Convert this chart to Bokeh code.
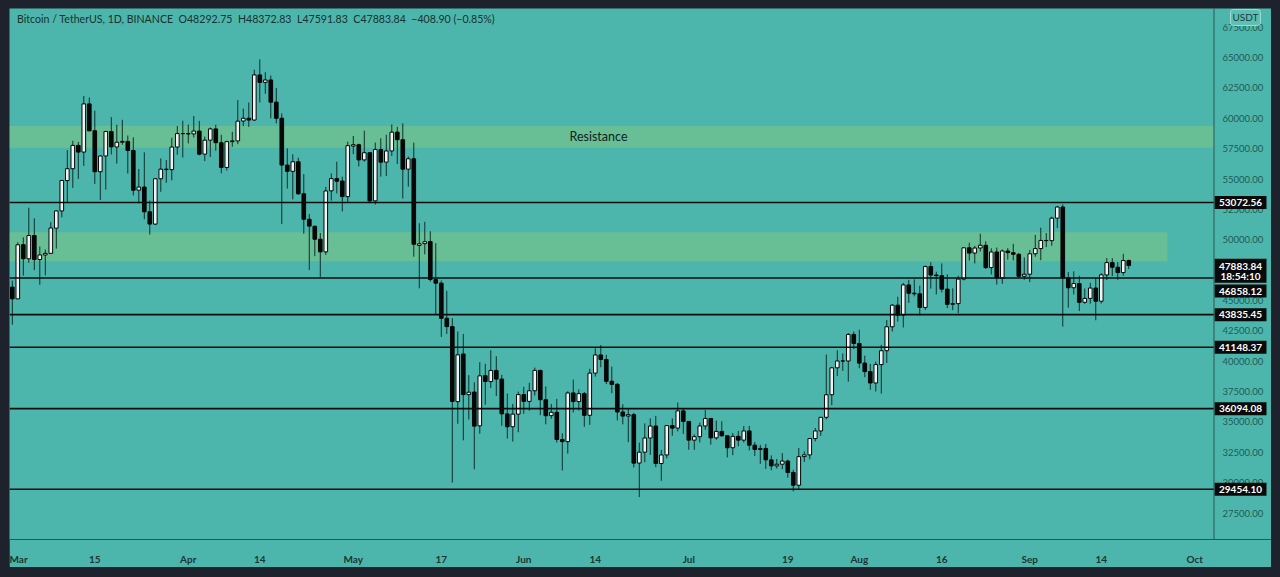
import pandas as pd
from bokeh.plotting import figure
from bokeh.models import (Range1d, FixedTicker, Label, Span,
                          ColumnDataSource, GlobalInlineStyleSheet)
from bokeh.core.properties import value
from bokeh.embed import file_html
from bokeh.resources import INLINE

# ---------------- data (BTC/USDT daily, Binance) ----------------
first_day = "2021-02-28"
axis_origin = "2021-03-01"

opens = [
    46103,
    # March
    45135, 49595, 48436, 50349, 48374, 48746, 48882, 50959, 52376, 54874,
    55851, 57773, 57222, 61188, 58976, 55605, 56900, 58912, 57641, 58030,
    58100, 57351, 54083, 54342, 52303, 51293, 55025, 55817, 55777, 57635, 58746,
    # April
    58739, 58720, 58950, 57051, 58202, 59130, 57991, 55953, 58077, 58142,
    59778, 60007, 59861, 63575, 62959, 63158, 61334, 60007, 56150, 55634,
    56425, 53788, 51690, 51111, 50047, 49004, 54030, 55036, 54838, 53555,
    # May
    57714, 57825, 56578, 57169, 53205, 57436, 56393, 57315, 58866, 58240,
    55816, 56670, 49537, 49682, 49855, 46716, 46427, 43538, 42849, 36671,
    40597, 37249, 37458, 34681, 38810, 38325, 39241, 38530, 35661, 34605, 35642,
    # June
    37253, 36694, 37568, 39246, 36829, 35517, 35796, 33556, 33380, 37389,
    36677, 37331, 35546, 39021, 40516, 40143, 38349, 38098, 35820, 35484,
    35601, 31614, 32510, 33676, 34663, 31577, 32283, 34702, 34494, 35911,
    # July
    35045, 33502, 33787, 34669, 35288, 33690, 34220, 33863, 32875, 33815,
    33502, 34259, 33086, 32730, 32820, 31874, 31383, 31521, 31779, 30839,
    29790, 32145, 32288, 33635, 34259, 35381, 37241, 39457, 40019, 40018, 42207,
    # August
    41461, 39850, 39146, 38207, 39723, 40868, 42836, 44614, 43794, 46280,
    45601, 45554, 44429, 47793, 47097, 47047, 45937, 44686, 44741, 46763,
    49339, 48905, 49322, 49546, 47707, 48994, 46852, 49077, 48942, 48803, 46995,
    # September
    47166, 48848, 49277, 49944, 49928, 51782, 52698, 46864, 46049, 46396,
    44850, 45173, 46026, 44941, 47103, 48121, 47737, 47300, 48292.75,
]
highs = [
    46638,
    49790, 50200, 52640, 51773, 49448, 49200, 51450, 52402, 54895, 57387,
    58150, 58058, 61844, 61724, 60633, 56938, 58981, 60100, 59468, 59880,
    58589, 58430, 55830, 57200, 53230, 55073, 56700, 56559, 58400, 59368, 59800,
    59490, 60200, 59791, 58500, 59251, 59474, 58650, 58153, 58894, 61500,
    60800, 61300, 64000, 64854, 63800, 63520, 62506, 60408, 57526, 57040,
    56757, 55410, 52130, 51167, 50555, 54356, 55466, 56428, 55195, 58075,
    58550, 57912, 58981, 57200, 58000, 58360, 58650, 59500, 59300, 59592,
    56862, 58000, 51367, 51483, 50700, 49720, 46643, 45800, 43546, 42451,
    42250, 38856, 38270, 39920, 39791, 40900, 40411, 38877, 37338, 36488, 37499,
    37894, 38225, 39476, 39289, 37925, 36480, 36900, 34068, 37534, 38491,
    37680, 37463, 39380, 41064, 41330, 40527, 39560, 38200, 36457, 36137,
    35750, 33298, 34881, 35298, 35500, 32700, 34749, 35297, 36600, 36100,
    35057, 33977, 34945, 35967, 35293, 35118, 35059, 33910, 34100, 34262,
    34666, 34678, 33340, 33114, 33185, 32249, 31955, 32435, 31899, 31063,
    32859, 32576, 33650, 34500, 35398, 40550, 39542, 40900, 40640, 42316, 42448,
    42599, 40459, 39780, 39969, 41350, 43392, 44700, 45310, 46454, 46700,
    46743, 46218, 47886, 48144, 47372, 48053, 47160, 46000, 47033, 49382,
    49757, 49500, 50500, 49875, 49300, 49360, 49200, 49309, 49667, 48910, 48550,
    49150, 50400, 51000, 50558, 51900, 52780, 52920, 47340, 47400, 47031,
    45989, 46460, 46876, 47250, 48500, 48486, 48150, 48843, 48372.83,
]
lows = [
    43000,
    45115, 47047, 48100, 47500, 46300, 47070, 48882, 49274, 51845, 53005,
    54273, 55013, 56078, 59000, 54600, 53271, 54124, 57023, 56270, 57820,
    55450, 53650, 53000, 51700, 50427, 51214, 53950, 54691, 54892, 57000, 56770,
    57935, 58428, 56957, 56478, 56817, 57333, 55473, 55700, 57654, 57876,
    59360, 59300, 59791, 61301, 62020, 60000, 59580, 51300, 54221, 53329,
    53695, 50500, 47500, 48650, 46930, 48754, 53222, 53813, 52330, 53068,
    57050, 56035, 56435, 53000, 52900, 55200, 55241, 56900, 56235, 53400,
    54370, 48600, 46000, 48799, 46555, 43825, 42001, 42250, 30000, 34850,
    33488, 35200, 31111, 34031, 36419, 37800, 37134, 34684, 33632, 33379, 34153,
    35666, 35920, 37170, 35555, 34800, 35258, 33300, 31000, 32396, 35782,
    35936, 34600, 34757, 38730, 39506, 38116, 37365, 35129, 34803, 33336,
    31251, 28805, 31683, 32286, 31275, 30151, 32000, 33862, 34226, 34017,
    32711, 32699, 33316, 34357, 33125, 33532, 33777, 32077, 32261, 33004,
    33306, 32658, 32202, 31550, 31133, 31020, 31164, 31108, 30408, 29278,
    29482, 31708, 31925, 33402, 33851, 35205, 36383, 38772, 39200, 38313, 41000,
    39422, 38690, 37642, 37509, 37332, 39853, 42446, 43261, 42779, 44800,
    45341, 43770, 44217, 45971, 45500, 45660, 44376, 44203, 43955, 46650,
    48280, 48050, 49029, 47600, 47143, 46315, 46374, 48368, 48300, 46862, 46712,
    46512, 48600, 48320, 49400, 49500, 50969, 42843, 44412, 45500, 44132,
    44730, 44742, 43370, 44750, 46682, 47014, 46700, 47045, 47591.83,
]
closes = [
    45135,
    49587, 48440, 50349, 48374, 48751, 48882, 50971, 52375, 54884, 55851,
    57773, 57221, 61188, 58968, 55605, 56900, 58912, 57648, 58030, 58102,
    57351, 54083, 54340, 52303, 51293, 55025, 55817, 55777, 57635, 58746, 58740,
    58720, 58950, 57051, 58202, 59130, 57991, 55953, 58077, 58142, 59770,
    60007, 59860, 63575, 62959, 63159, 61334, 60006, 56151, 55633, 56425,
    53787, 51690, 51125, 50047, 49004, 54021, 55033, 54824, 53555, 57750,
    57828, 56578, 57169, 53200, 57436, 56393, 57314, 58862, 58240, 55816,
    56670, 49631, 49671, 49841, 46726, 46427, 43538, 42849, 36690, 40526,
    37252, 37449, 34655, 38796, 38325, 39241, 38529, 35663, 34605, 35641, 37253,
    36694, 37568, 39246, 36829, 35513, 35796, 33552, 33380, 37388, 36675,
    37331, 35546, 39020, 40516, 40144, 38349, 38092, 35819, 35483, 35600,
    31608, 32510, 33678, 34663, 31584, 32283, 34700, 34494, 35912, 35045,
    33504, 33787, 34669, 35286, 33690, 34220, 33862, 32875, 33815, 33502,
    34259, 33086, 32729, 32820, 31880, 31383, 31520, 31778, 30839, 29790,
    32144, 32287, 33634, 34258, 35381, 37237, 39457, 40019, 40016, 42206, 41461,
    39845, 39147, 38207, 39723, 40862, 42836, 44614, 43792, 46285, 45595,
    45555, 44428, 47793, 47096, 47047, 45936, 44686, 44742, 46763, 49339,
    48905, 49321, 49546, 47707, 48993, 46852, 49077, 48942, 48803, 46994, 47166,
    48848, 49276, 49944, 49928, 51782, 52698, 46864, 46049, 46398, 44851,
    45173, 46026, 44941, 47112, 48122, 47738, 47300, 48292, 47883.84,
]

level_values = [53072.56, 46858.12, 43835.45, 41148.37, 36094.08, 29454.10]
last_price = 47883.84
countdown_text = "18:54:10"
resistance_zone = [57584, 59364]
demand_zone = [48232, 50611]
demand_zone_end = "2021-09-26"
resistance_text = "Resistance"

price_ticks = [27500, 30000, 32500, 35000, 37500, 40000, 42500, 45000,
               47500, 50000, 52500, 55000, 57500, 60000, 62500, 65000, 67500]
time_tick_dates = ["2021-03-01", "2021-03-15", "2021-04-01", "2021-04-14",
                   "2021-05-01", "2021-05-17", "2021-06-01", "2021-06-14",
                   "2021-07-01", "2021-07-19", "2021-08-01", "2021-08-16",
                   "2021-09-01", "2021-09-14", "2021-10-01"]
time_tick_labels = ["Mar", "15", "Apr", "14", "May", "17", "Jun", "14",
                    "Jul", "19", "Aug", "16", "Sep", "14", "Oct"]

header_text = ("Bitcoin / TetherUS, 1D, BINANCE\u00a0\u00a0O48292.75\u00a0\u00a0H48372.83"
               "\u00a0\u00a0L47591.83\u00a0\u00a0C47883.84\u00a0\u00a0\u2212408.90 (\u22120.85%)")
currency_text = "USDT"

# ---------------- layout / style ----------------
PAGE_X0, PAGE_Y0 = 9, 8          # top-left of the chart on the page
W, H = 1262, 559
BOTTOM_B = 26
X0, X1 = -1.509, 227.95
Y0, Y1 = 25320, 69044
FRAME_W = W
FRAME_H = H - BOTTOM_B
PX_PER_Y = FRAME_H / (Y1 - Y0)

def px_to_x(px):
    return X0 + (px - PAGE_X0) / FRAME_W * (X1 - X0)

def py_to_y(py):
    return Y1 - (py - PAGE_Y0) / FRAME_H * (Y1 - Y0)

def shift_down(y, px):
    return y - px / PX_PER_Y

BG = "#4db6ac"
FONT = "Lato"
SCALE_X = px_to_x(1213.5)   # separator between chart pane and price scale

origin = pd.Timestamp(axis_origin)
dates = pd.date_range(first_day, periods=len(closes), freq="D")
xs = [(d - origin).days for d in dates]
inc = [c >= o for o, c in zip(opens, closes)]
src = ColumnDataSource(dict(
    x=xs, open=opens, high=highs, low=lows, close=closes,
    top=[max(o, c) for o, c in zip(opens, closes)],
    bottom=[min(o, c) for o, c in zip(opens, closes)],
    fill=["#eef4f3" if i else "#070707" for i in inc],
))

css = ("html, body { background-color: #1e222d !important; } "
       "body { padding: %dpx 0 0 %dpx !important; margin: 0 !important; }" % (PAGE_Y0, PAGE_X0))

p = figure(width=W, height=H, x_range=Range1d(X0, X1), y_range=Range1d(Y0, Y1),
           output_backend="svg", toolbar_location=None, y_axis_location=None,
           min_border_left=0, min_border_right=0,
           min_border_top=0, min_border_bottom=BOTTOM_B,
           background_fill_color=BG, border_fill_color=BG, outline_line_color=None,
           stylesheets=[GlobalInlineStyleSheet(css=css)])
p.xgrid.visible = False
p.ygrid.visible = False

# zones
p.quad(left=[X0], right=[SCALE_X], bottom=[resistance_zone[0]], top=[resistance_zone[1]],
       fill_color="#81c784", fill_alpha=0.55, line_color=None)
zone_end_x = (pd.Timestamp(demand_zone_end) - origin).days
p.quad(left=[X0], right=[zone_end_x], bottom=[demand_zone[0]], top=[demand_zone[1]],
       fill_color="#81c784", fill_alpha=0.55, line_color=None)

p.text(x=[px_to_x(598)], y=[sum(resistance_zone) / 2], text=[resistance_text],
       text_font=value(FONT), text_font_size="12.5px", text_color="#10221f",
       text_align="center", text_baseline="middle")

# candles
p.segment(x0="x", y0="low", x1="x", y1="high", source=src,
          line_color="#10302c", line_width=1)
p.vbar(x="x", width=0.66, top="top", bottom="bottom", source=src,
       fill_color="fill", line_color="#050505", line_width=1)

# horizontal levels (stop at the price scale)
p.segment(x0=[X0] * len(level_values), y0=level_values,
          x1=[SCALE_X] * len(level_values), y1=level_values,
          line_color="#0c0c0c", line_width=1.6)

# price scale (right)
p.add_layout(Span(location=SCALE_X, dimension="height", line_color="#2b5652", line_width=1))
p.text(x=[px_to_x(1222)] * len(price_ticks), y=price_ticks,
       text=[f"{t:.2f}" for t in price_ticks],
       text_font=value(FONT), text_font_size="9.5px", text_color="#1f5a55",
       text_align="left", text_baseline="middle")

# time scale (bottom)
tick_days = [(pd.Timestamp(d) - origin).days for d in time_tick_dates]
p.xaxis.ticker = FixedTicker(ticks=tick_days)
p.xaxis.major_label_overrides = {d: l for d, l in zip(tick_days, time_tick_labels)}
p.xaxis.major_label_text_font = FONT
p.xaxis.major_label_text_font_size = "10px"
p.xaxis.major_label_text_font_style = "bold"
p.xaxis.major_label_text_color = "#1b3532"
p.xaxis.axis_line_color = "#2b5652"
p.xaxis.major_tick_line_color = None
p.xaxis.minor_tick_line_color = None
p.xaxis.major_label_standoff = 7

# price labels on the scale: black boxes with white text
box_x = px_to_x(1240)
lab_texts, lab_ys = [], []
box_ys, box_hs = [], []
for v in level_values:
    y = shift_down(v, 13.2) if v == 46858.12 else v
    lab_texts.append(f"{v:.2f}")
    lab_ys.append(y)
    box_ys.append(y)
    box_hs.append(13)
# current price + countdown share one box
lab_texts += [f"{last_price:.2f}", countdown_text]
lab_ys += [shift_down(last_price, 0.8), shift_down(last_price, 10.8)]
box_ys.append(shift_down(last_price, 5.2))
box_hs.append(24)

p.rect(x=[box_x] * len(box_ys), y=box_ys, width=[52] * len(box_ys), height=box_hs,
       width_units="screen", height_units="screen",
       fill_color="#0a0a0a", line_color=None)
p.text(x=[box_x] * len(lab_ys), y=lab_ys, text=lab_texts,
       text_font=value(FONT), text_font_size="10px", text_font_style="bold",
       text_color="#ffffff", text_align="center", text_baseline="middle")

p.add_layout(Label(x=px_to_x(1230), y=py_to_y(17), text=currency_text,
                   text_font=FONT, text_font_size="10px", text_color="#1c3a37",
                   text_align="left", text_baseline="middle",
                   background_fill_color="#5cbfb5", border_line_color="#a6dbd4",
                   border_radius=3, padding=2))

p.add_layout(Label(x=px_to_x(16.5), y=py_to_y(19), text=header_text,
                   text_font=FONT, text_font_size="10.6px", text_color="#17312e",
                   text_align="left", text_baseline="middle"))

open("out.html", "w").write(file_html(p, INLINE))
